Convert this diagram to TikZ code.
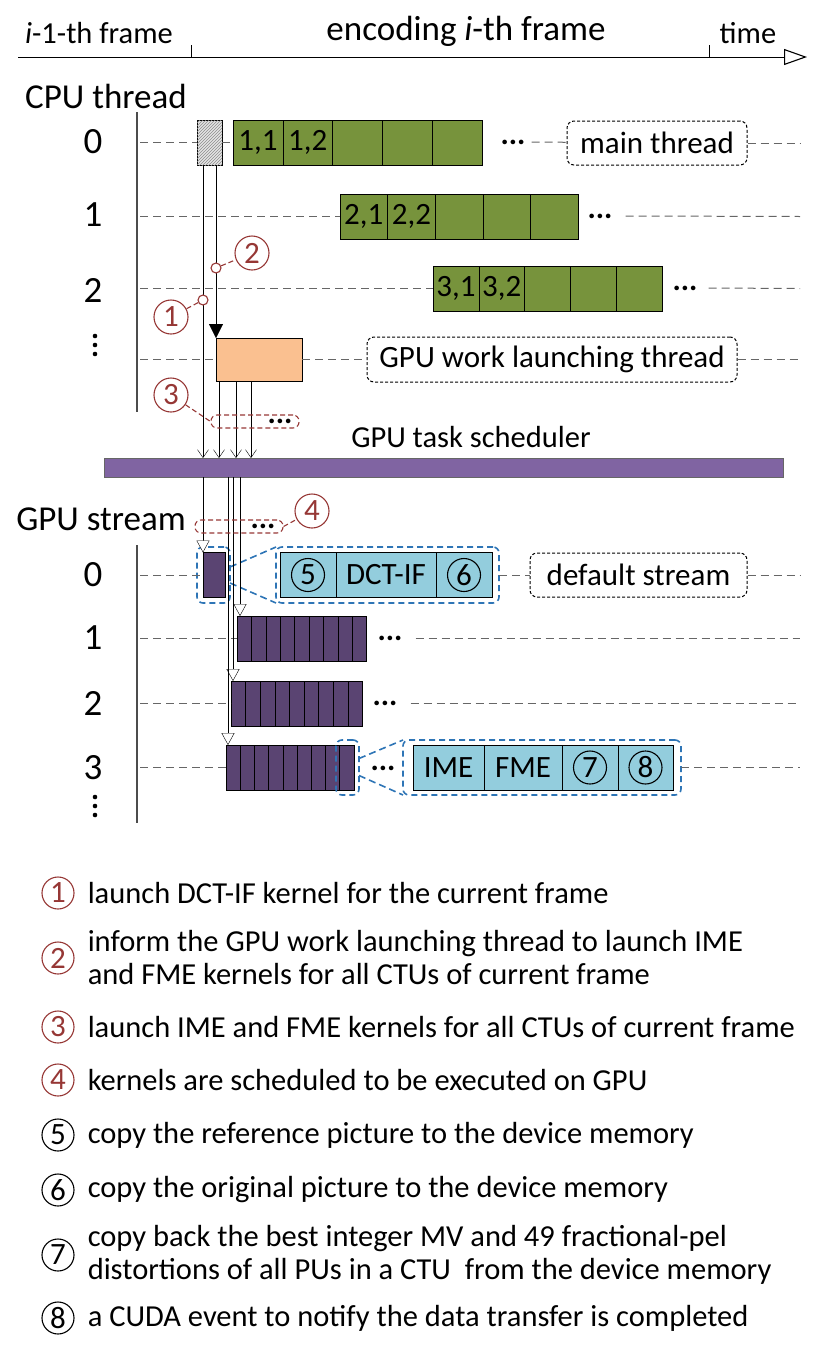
\documentclass[tikz,border=0pt]{standalone}
\usepackage{fontspec}
\setmainfont{Carlito}
\usepackage{tikz}
\usetikzlibrary{arrows.meta,positioning,patterns}
\definecolor{ctugreen}{RGB}{119,147,60}
\definecolor{kernpurple}{RGB}{90,68,114}
\definecolor{barpurple}{RGB}{128,100,162}
\definecolor{launchorange}{RGB}{250,192,144}
\definecolor{zoomcyan}{RGB}{147,205,221}
\definecolor{zoomblue}{RGB}{46,117,182}
\definecolor{notered}{RGB}{150,55,53}
\newcommand\biglabfont{\fontsize{35}{42}\selectfont}
\newcommand\toplabfont{\fontsize{30.5}{36}\selectfont}
\newcommand\cellfont{\fontsize{31}{37}\selectfont}
\newcommand\rownumfont{\fontsize{37}{44}\selectfont}
\newcommand\legfont{\fontsize{30.5}{33}\selectfont}
\tikzset{x=1pt,y=-1pt,line width=1.1pt,>={Straight Barb[length=8pt,width=11pt]},
  box/.style={draw,inner sep=0pt,outer sep=0pt},
  ctu/.style={box,fill=ctugreen,minimum height=45pt,anchor=west,font=\cellfont},
  kern/.style={box,fill=kernpurple,minimum height=45pt,anchor=west},
  zcell/.style={box,fill=zoomcyan,minimum height=45pt,anchor=west,font=\cellfont},
  zoombox/.style={draw=zoomblue,line width=1.6pt,dash pattern=on 6pt off 4pt,rounded corners=6pt,inner sep=0pt,outer sep=0pt},
  tagbox/.style={draw,line width=1pt,dash pattern=on 3pt off 2pt,rounded corners=7pt,font=\cellfont},
  redgroup/.style={draw=notered,line width=1.1pt,dash pattern=on 5pt off 3pt,rounded corners=6pt,minimum height=13pt,inner sep=0pt},
  redring/.style={circle,draw=notered,fill=white,line width=1.1pt,minimum size=10pt,inner sep=0pt},
  rednum/.style={circle,draw=notered,text=notered,line width=1.1pt,minimum size=34pt,inner sep=0pt,font=\cellfont},
  blknum/.style={circle,draw,line width=1.1pt,minimum size=33pt,inner sep=0pt,font=\cellfont},
  rowline/.style={draw=black!60,line width=1pt,dash pattern=on 8pt off 5pt},
  redlink/.style={draw=notered,line width=1.1pt,dash pattern=on 5pt off 3pt},
  bluelink/.style={draw=zoomblue,line width=1.6pt,dash pattern=on 7pt off 4pt},
  dots/.style={inner sep=2pt,font=\cellfont\bfseries},
  toplab/.style={font=\toplabfont},
  biglab/.style={font=\biglabfont},
  rowlab/.style={font=\rownumfont},
  opentip/.style={-{Triangle[length=12pt,width=13pt,fill=white]}},
  solidtip/.style={-{Triangle[length=14pt,width=14pt]}},
  legtext/.style={anchor=west,align=left,font=\legfont,inner sep=0pt}}

\begin{document}
\begin{tikzpicture}
              \useasboundingbox (0,0) rectangle (817,1352);

              % time axis
              \coordinate (t0) at (18,57);
              \coordinate (t1) at (807,57);
              \draw[-{Triangle[length=23pt,width=16pt,fill=white,line width=1.1pt]}] (t0) -- (t1);
              \draw (191,45) -- (191,57) (709,45) -- (709,57);
              \node[toplab] (prevf) at (99,33) {\textit{i}-1-th frame};
              \node[biglab] (curf) at (466,31) {encoding \textit{i}-th frame};
              \node[toplab] (timel) at (748,33) {time};

              % CPU threads
              \node[biglab] (cpul) at (106,96) {CPU thread};
              \draw[black!70,line width=1.4pt] (137,112) -- (137,412);
              \foreach \t/\y in {0/142,1/215,2/290}
                \node[rowlab] at (93,\y) {\t};
              \foreach \dy in {-9,0,9}
                \fill (95,345+\dy) circle (2.3pt);
              \coordinate (lft) at (140,0);
              \coordinate (rgt) at (800,0);

              \node[box,fill=black!10,postaction={pattern=north east lines,pattern color=black!45},
                minimum width=25pt,minimum height=45pt] (hatch) at (209.5,142.5) {};
              \foreach \r/\x/\w/\y in {1/233/49.8/142.5,2/340/47.6/216.5,3/433/45.8/288.5}
                \foreach \k in {1,...,5}
                  \node[ctu,minimum width=\w*1pt] (c\r\k) at ({\x+(\k-1)*\w},\y) {\ifnum\k<3 \r,\k\fi};
              \node[dots] (dots0) at (513,142) {...};
              \node[dots] (dots1) at (600,216) {...};
              \node[dots] (dots2) at (685,288) {...};
              \node[tagbox,minimum width=180pt,minimum height=44pt] (mainthr) at (657,143) {main thread};
              \node[box,fill=launchorange,minimum width=86pt,minimum height=43pt] (launch) at (259,359.5) {};
              \node[tagbox,minimum width=370pt,minimum height=45pt] (gpulaunch) at (552,359.5) {GPU work launching thread};

              \path[rowline]
              (lft |- hatch) edge (hatch)
              (hatch.east) edge (c11.west)
              ([xshift=4pt]dots0.east) edge (mainthr)
              (mainthr) edge (rgt |- mainthr)
              (lft |- c21) edge (c21)
              ([xshift=11pt]dots1.east) edge (rgt |- c21)
              (lft |- c31) edge (c31)
              ([xshift=9pt]dots2.east) edge (rgt |- c31)
              (lft |- launch) edge (launch)
              (launch) edge (gpulaunch)
              (gpulaunch) edge (rgt |- gpulaunch)
              ;

              % scheduler
              \node[box,draw=black!60,line width=0.8pt,fill=barpurple,minimum width=679pt,minimum height=19pt] (sched) at (443.5,467.5) {};
              \node[toplab] (schedl) at (471,437) {GPU task scheduler};

              \path[->]
              ([xshift=6pt]hatch.south west) edge ([xshift=6pt]hatch.south west |- sched.north)
              ([xshift=-6pt]hatch.south east) edge[solidtip] (launch.north west)
              ;
              \foreach \d in {3,20,35}
                \draw[->] ([xshift=\d pt]launch.south west) -- ([xshift=\d pt]launch.south west |- sched.north);

              % notes 1-3
              \node[redring] (m1) at (203,300) {};
              \node[redring] (m2) at (216,268) {};
              \node[rednum] (n1) at (171,317) {1};
              \node[rednum] (n2) at (252,253) {2};
              \node[rednum] (n3) at (171,395) {3};
              \node[redgroup,minimum width=88pt] (g3) at (255,421.5) {};
              \node[dots] at (280,421) {...};
              \path[redlink]
              (m1) edge (n1)
              (m2) edge (n2)
              (n3) edge (g3.west)
              ;

              % GPU streams
              \node[biglab] (gpul) at (101,519) {GPU stream};
              \draw[black!70,line width=1.4pt] (137,545) -- (137,823);
              \foreach \t/\y in {0/575,1/638,2/703,3/768}
                \node[rowlab] at (93,\y) {\t};
              \foreach \dy in {-9,0,9}
                \fill (95,806+\dy) circle (2.3pt);

              \node[kern,minimum width=22pt] (k01) at (203,575) {};
              \foreach \s/\x/\w/\y in {1/237/14.4/638.5,2/231/14.6/703.5,3/226/14.2/767.5}
                \foreach \k in {1,...,9}
                  \node[kern,minimum width=\w*1pt] (k\s\k) at ({\x+(\k-1)*\w},\y) {};

              \node[zoombox,minimum width=33pt,minimum height=56pt] (z0) at (213.5,575) {};
              \node[zcell,minimum width=56pt] (d1) at (280,575) {};
              \node[zcell,minimum width=100pt] (d2) at (336,575) {DCT-IF};
              \node[zcell,minimum width=56pt] (d3) at (436,575) {};
              \node[blknum] at (d1) {5};
              \node[blknum] at (d3) {6};
              \node[zoombox,minimum width=223pt,minimum height=56pt] (big0) at (387.5,575) {};
              \node[tagbox,minimum width=217pt,minimum height=44pt] (defstr) at (638.5,575) {default stream};

              \node[dots] (sdots1) at (390,638) {...};
              \node[dots] (sdots2) at (385,703) {...};
              \node[dots] (sdots3) at (383,768) {...};

              \node[zoombox,minimum width=23pt,minimum height=55pt] (z3) at (347.5,767.5) {};
              \node[zcell,minimum width=71pt] (e1) at (413,767.5) {IME};
              \node[zcell,minimum width=78pt] (e2) at (484,767.5) {FME};
              \node[zcell,minimum width=56pt] (e3) at (562,767.5) {};
              \node[zcell,minimum width=55pt] (e4) at (618,767.5) {};
              \node[blknum] at (e3) {7};
              \node[blknum] at (e4) {8};
              \node[zoombox,minimum width=278pt,minimum height=55pt] (big3) at (542,767.5) {};

              \path[rowline]
              (lft |- k01) edge (k01)
              (big0) edge (defstr)
              (defstr) edge (rgt |- defstr)
              (lft |- k11) edge (k11)
              ([xshift=11pt]sdots1.east) edge (rgt |- sdots1)
              (lft |- k21) edge (k21)
              ([xshift=11pt]sdots2.east) edge (rgt |- sdots2)
              (lft |- k31) edge (k31)
              (big3) edge (rgt |- big3)
              ;
              \path[bluelink]
              ([yshift=8pt]z0.east) edge (big0.north west)
              ([yshift=-8pt]z0.east) edge (big0.south west)
              ([yshift=9pt]z3.east) edge (big3.north west)
              ([yshift=-8pt]z3.east) edge (big3.south west)
              ;

              \path[opentip]
              (k01.north west |- sched.south) edge (k01.north west)
              ([xshift=3pt]k11.north west |- sched.south) edge ([xshift=3pt]k11.north west)
              ([xshift=2pt]k21.north west |- sched.south) edge ([xshift=2pt]k21.north west)
              ([xshift=2pt]k31.north west |- sched.south) edge ([xshift=2pt]k31.north west)
              ;

              % note 4
              \node[redgroup,minimum width=88pt] (g4) at (239,526.5) {};
              \node[dots] at (263,526) {...};
              \node[rednum] (n4) at (312,511) {4};
              \draw[redlink] (g4.east) -- (n4);

              % legend
              \foreach \i/\y in {1/893,2/958,3/1027,4/1080}
                \node[rednum,minimum size=32pt] (leg\i) at (58,\y) {\i};
              \foreach \i/\y in {5/1135,6/1190,7/1255,8/1318}
                \node[blknum,minimum size=32pt] (leg\i) at (58,\y) {\i};
              \node[legtext,right=13pt of leg1] {launch DCT-IF kernel for the current frame};
              \node[legtext,right=13pt of leg2] {inform the GPU work launching thread to launch IME\\and FME kernels for all CTUs of current frame};
              \node[legtext,right=13pt of leg3] {launch IME and FME kernels for all CTUs of current frame};
              \node[legtext,right=13pt of leg4] {kernels are scheduled to be executed on GPU};
              \node[legtext,right=13pt of leg5] {copy the reference picture to the device memory};
              \node[legtext,right=13pt of leg6] {copy the original picture to the device memory};
              \node[legtext,right=13pt of leg7] {copy back the best integer MV and 49 fractional-pel\\distortions of all PUs in a CTU\ \ from the device memory};
              \node[legtext,right=13pt of leg8] {a CUDA event to notify the data transfer is completed};
            \end{tikzpicture}
\end{document}
